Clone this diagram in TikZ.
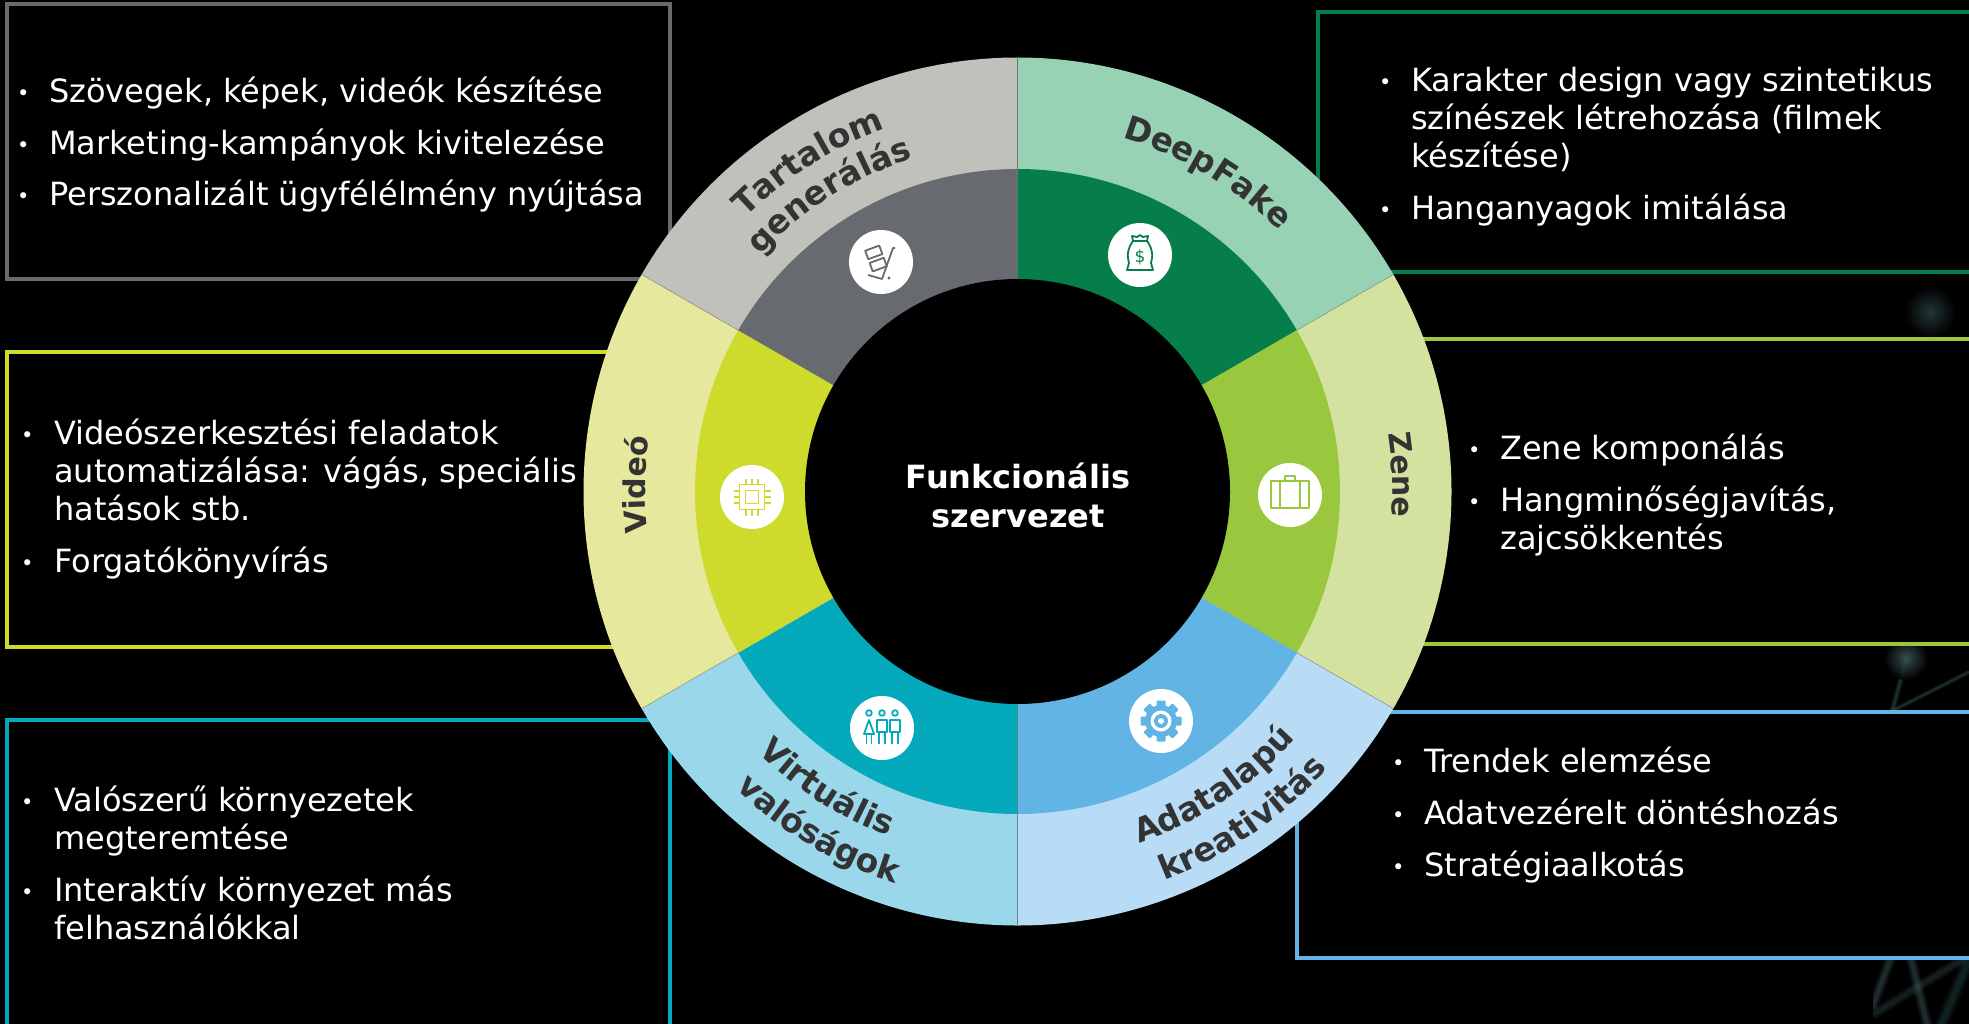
\documentclass[tikz,border=0pt]{standalone}
\usepackage{fontspec}
\setmainfont{DejaVu Sans}
\usetikzlibrary{calc,decorations.text}
\definecolor{cGrayD}{HTML}{676B70}\definecolor{cGrayL}{HTML}{BFC1BA}
\definecolor{cGreenD}{HTML}{067E4C}\definecolor{cGreenL}{HTML}{98D2B5}
\definecolor{cLimeD}{HTML}{99C73D}\definecolor{cLimeL}{HTML}{D3E29F}
\definecolor{cBlueD}{HTML}{62B4E4}\definecolor{cBlueL}{HTML}{B9DCF6}
\definecolor{cTealD}{HTML}{05A9BC}\definecolor{cTealL}{HTML}{9AD7EA}
\definecolor{cYelD}{HTML}{CFDB2C}\definecolor{cYelL}{HTML}{E6E89E}
\definecolor{lab}{HTML}{333333}\definecolor{glow}{HTML}{4F7478}
\tikzset{
  framebox/.style={draw=#1,line width=3.6pt,fill=black},
  listnode/.style={anchor=north west,inner sep=0pt,text=white,font=\fontsize{32}{38}\selectfont},
  iconline/.style={draw=#1,line width=1.8pt,line join=round,fill=none},
  iconbase/.style={fill=white,draw=none},
  centertext/.style={text=white,align=center,inner sep=0pt,font=\fontsize{32}{39}\selectfont\bfseries},
}
\newcommand{\lblf}{\fontsize{33}{38}\selectfont\bfseries\color{lab}}
\newcommand{\lblg}{\fontsize{30}{36}\selectfont\bfseries\color{lab}}
\newcommand{\blt}{\makebox[0pt][l]{\raisebox{2pt}{\fontsize{21}{21}\selectfont •}}}
\newcommand{\sect}[4]{\fill[#1] (c) -- ++(#2:#4) arc[start angle=#2,end angle=#3,radius=#4] -- cycle;}
\newcommand{\arccw}[4][\lblf]{\path[decorate,decoration={text along path,text align=center,text={|#1|#2}}]
  ($(c)+(#3+50:#4)$) arc[start angle=#3+50,end angle=#3-50,radius=#4];}
\newcommand{\arcccw}[3]{\path[decorate,decoration={text along path,text align=center,text={|\lblf|#1}}]
  ($(c)+(#2-50:#3)$) arc[start angle=#2-50,end angle=#2+50,radius=#3];}
\newcommand{\blur}[4]{%
  \foreach \w/\o in {1/.10,.7/.14,.4/.2}{\draw[#1,line width=\w*#4,opacity=\o,line cap=butt] #2 -- #3;}}
\begin{document}
\begin{tikzpicture}[x=1pt,y=-1pt]
\useasboundingbox (0,0) rectangle (1969,1024);
\clip (0,0) rectangle (1969,1024);
\fill[black] (0,0) rectangle (1969,1024);
\coordinate (c) at (1017.5,491.5);
% faint background image seen between the frames
\begin{scope}
\clip (1875,272) rectangle (1969,339);
\shade[inner color=glow!45!black,outer color=black] (1930,312) circle (26pt);
\end{scope}
\begin{scope}
\clip (1875,644) rectangle (1969,712);
\blur{glow}{(1906,660)}{(1892,712)}{6}
\blur{glow}{(1890,712)}{(1969,672)}{5}
\shade[inner color=glow!85!black,outer color=black,opacity=.8] (1906,658) circle (22pt);
\end{scope}
\begin{scope}
\clip (1873,958) rectangle (1969,1024);
\blur{glow}{(1892,955)}{(1872,1008)}{11}
\blur{glow!70!black}{(1872,1015)}{(1965,958)}{11}
\blur{glow}{(1910,955)}{(1928,1028)}{11}
\blur{glow!120!white}{(1971,955)}{(1940,1028)}{14}
\end{scope}
% frames
\draw[framebox=cGrayD] (7,4) rectangle (670,279);
\draw[framebox=cYelD] (7,352) rectangle (640,647);
\draw[framebox=cTealD] (7,720) rectangle (670,1040);
\draw[framebox=cGreenD] (1318,12) rectangle (1985,272);
\draw[framebox=cLimeD] (1400,339) rectangle (1985,644);
\draw[framebox=cBlueD] (1297,712) rectangle (1985,958);
% ring, outer then inner
\sect{cGreenL}{90}{30}{434pt}
\sect{cLimeL}{30}{-30}{434pt}
\sect{cBlueL}{-30}{-90}{434pt}
\sect{cTealL}{-90}{-150}{434pt}
\sect{cYelL}{-150}{-210}{434pt}
\sect{cGrayL}{150}{90}{434pt}
\sect{cGreenD}{90}{30}{322.5pt}
\sect{cLimeD}{30}{-30}{322.5pt}
\sect{cBlueD}{-30}{-90}{322.5pt}
\sect{cTealD}{-90}{-150}{322.5pt}
\sect{cYelD}{-150}{-210}{322.5pt}
\sect{cGrayD}{150}{90}{322.5pt}
\foreach \a in {30,150,-30,-150}{\draw[black!60,opacity=.35,line width=.8pt] ($(c)+(\a:322pt)$) -- ($(c)+(\a:434pt)$);}
\draw[black!60,opacity=.6,line width=.9pt] ($(c)+(90:322pt)$) -- ($(c)+(90:434pt)$);
\draw[black!60,opacity=.5,line width=.9pt] ($(c)+(-90:213pt)$) -- ($(c)+(-90:434pt)$);
\fill[black] (c) circle (212.5pt);
% ring labels
\arccw{Tartalom}{122.4}{386pt}
\arccw{generálás}{122.4}{349pt}
\arccw{DeepFake}{59.2}{369pt}
\arccw[\lblg]{Zene}{2.5}{375pt}
\arccw[\lblg]{Videó}{179}{372pt}
\arcccw{Virtuális}{237.3}{368pt}
\arcccw{valóságok}{239.6}{410pt}
\arcccw{Adatalapú}{303.7}{372pt}
\arcccw{kreativitás}{304.5}{416pt}
% icon: cart
\begin{scope}[shift={(881,262)}]
\fill[iconbase] (0,0) circle (32pt);
\draw[iconline=cGrayD,rotate=20] (-11,-16) rectangle (4,-7);
\draw[iconline=cGrayD,rotate=20] (-11,-3) rectangle (4,6);
\draw[iconline=cGrayD] (14,-14) -- (12,-14) -- (1,17) -- (-13,13);
\fill[cGrayD] (8,16) circle (1.7pt);
\end{scope}
% icon: money bag
\begin{scope}[shift={(1140,255)}]
\fill[iconbase] (0,0) circle (32pt);
\draw[iconline=cGreenD] (-7,-14) -- (-8,-19) -- (-3,-18) -- (0,-20) -- (3,-18) -- (8,-19) -- (7,-14) -- cycle;
\draw[iconline=cGreenD] (-7,-14) .. controls (-13,-6) and (-13,2) .. (-11,8) -- (-13,15) -- (13,15) -- (11,8) .. controls (13,2) and (13,-6) .. (7,-14);
\node[inner sep=0pt,text=cGreenD,font=\fontsize{17}{17}\selectfont] (bagsign) at (0,2) {\$};
\end{scope}
% icon: chip
\begin{scope}[shift={(752,497)}]
\fill[iconbase] (0,0) circle (32pt);
\draw[iconline=cYelD] (-12.5,-12.5) rectangle (12.5,12.5);
\draw[iconline=cYelD] (-6.5,-6.5) rectangle (6.5,6.5);
\foreach \t in {-6,0,6}{
  \draw[iconline=cYelD] (\t,-18.5) -- (\t,-12.5);
  \draw[iconline=cYelD] (\t,18.5) -- (\t,12.5);
  \draw[iconline=cYelD] (-18.5,\t) -- (-12.5,\t);
  \draw[iconline=cYelD] (18.5,\t) -- (12.5,\t);
}
\end{scope}
% icon: case
\begin{scope}[shift={(1290,495)}]
\fill[iconbase] (0,0) circle (32pt);
\draw[iconline=cLimeD] (-19,-14) rectangle (19,13);
\draw[iconline=cLimeD] (-10,-14) -- (-10,13);
\draw[iconline=cLimeD] (10,-14) -- (10,13);
\draw[iconline=cLimeD] (-5,-14) -- (-5,-19) -- (5,-19) -- (5,-14);
\end{scope}
% icon: people
\begin{scope}[shift={(882,728)}]
\fill[iconbase] (0,0) circle (32pt);
\foreach \p in {-13,0,13}{\draw[iconline=cTealD] (\p,-15) circle (2.8pt);}
\draw[iconline=cTealD] (-13,-8) -- (-18,6) -- (-8,6) -- cycle;
\draw[iconline=cTealD] (-15.5,6) -- (-15.5,16);
\draw[iconline=cTealD] (-10.5,6) -- (-10.5,16);
\foreach \p in {0,13}{
  \draw[iconline=cTealD] ({\p-5},-8) rectangle ({\p+5},4);
  \draw[iconline=cTealD] ({\p-3},4) -- ({\p-3},16);
  \draw[iconline=cTealD] ({\p+3},4) -- ({\p+3},16);
}
\end{scope}
% icon: gear
\begin{scope}[shift={(1161,721)}]
\fill[iconbase] (0,0) circle (32pt);
\foreach \a in {0,45,...,315}{\fill[cBlueD,rotate=\a,rounded corners=1pt] (-4.5,-20.5) rectangle (4.5,-13);}
\fill[cBlueD] (0,0) circle (16pt);
\fill[white] (0,0) circle (10.5pt);
\fill[cBlueD] (0,0) circle (7pt);
\fill[white] (0,0) circle (3pt);
\end{scope}
% centre
\node[centertext] (hub) at (1018,495.5) {Funkcionális\\szervezet};
% lists
\node[listnode] (l1) at (17,76) {\begin{tabular}{@{}l@{\hskip32pt}l@{}}
\blt & Szövegek, képek, videók készítése\\[13.5pt]
\blt & Marketing-kampányok kivitelezése\\[13.5pt]
\blt & Perszonalizált ügyfélélmény nyújtása
\end{tabular}};
\node[listnode] (l2) at (21,418) {\begin{tabular}{@{}l@{\hskip33pt}l@{}}
\blt & Videószerkesztési feladatok\\
 & automatizálása: vágás, speciális\\
 & hatások stb.\\[14pt]
\blt & Forgatókönyvírás
\end{tabular}};
\node[listnode] (l3) at (21,785) {\begin{tabular}{@{}l@{\hskip33pt}l@{}}
\blt & Valószerű környezetek\\
 & megteremtése\\[14pt]
\blt & Interaktív környezet más\\
 & felhasználókkal
\end{tabular}};
\node[listnode] (r1) at (1379,64.5) {\begin{tabular}{@{}l@{\hskip32pt}l@{}}
\blt & Karakter design vagy szintetikus\\
 & színészek létrehozása (filmek\\
 & készítése)\\[14.5pt]
\blt & Hanganyagok imitálása
\end{tabular}};
\node[listnode] (r2) at (1468,433) {\begin{tabular}{@{}l@{\hskip32pt}l@{}}
\blt & Zene komponálás\\[13.5pt]
\blt & Hangminőségjavítás,\\
 & zajcsökkentés
\end{tabular}};
\node[listnode] (r3) at (1392,746) {\begin{tabular}{@{}l@{\hskip32pt}l@{}}
\blt & Trendek elemzése\\[14pt]
\blt & Adatvezérelt döntéshozás\\[14pt]
\blt & Stratégiaalkotás
\end{tabular}};
\end{tikzpicture}
\end{document}
